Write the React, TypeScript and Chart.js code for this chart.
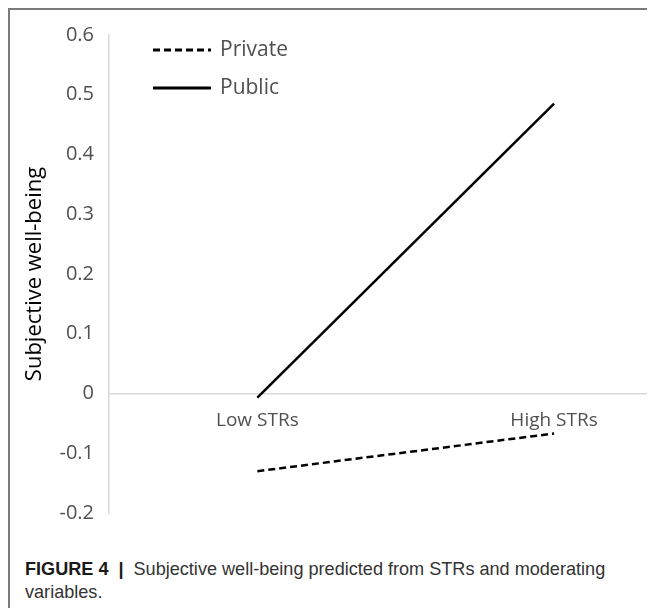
import React, { useEffect, useRef } from 'react';
import { Chart, registerables } from 'chart.js';

Chart.register(...registerables);

// ---- data ----
const categories = ['Low STRs', 'High STRs'];
const seriesNames = ['Private', 'Public'];
const privateValues = [-0.13, -0.067];
const publicValues = [-0.007, 0.485];
const yTickValues = [-0.2, -0.1, 0, 0.1, 0.2, 0.3, 0.4, 0.5, 0.6];
const yTitle = 'Subjective well-being';
const captionLabel = 'FIGURE 4';
const captionLine1 = 'Subjective well-being predicted from STRs and moderating';
const captionLine2 = 'variables.';

const FONT = '"Open Sans", "Noto Sans", sans-serif';
const TEXT = '#505050';
const AXIS = '#d9d9d9';

const insideLegend = {
  id: 'insideLegend',
  afterDraw(chart: any) {
    const { ctx, chartArea } = chart;
    const o = chart.options.plugins.insideLegend;
    chart.data.datasets.forEach((ds: any, i: number) => {
      const y = chartArea.top + o.top + i * o.rowGap;
      const x0 = chartArea.left + o.left;
      ctx.save();
      ctx.strokeStyle = ds.borderColor;
      ctx.lineWidth = o.lineWidth;
      ctx.lineCap = 'butt';
      ctx.setLineDash(ds.borderDash || []);
      ctx.beginPath();
      ctx.moveTo(x0, y);
      ctx.lineTo(x0 + o.sampleWidth, y);
      ctx.stroke();
      ctx.setLineDash([]);
      ctx.fillStyle = o.color;
      ctx.font = `${o.fontSize}px ${FONT}`;
      ctx.textBaseline = 'middle';
      ctx.textAlign = 'left';
      ctx.fillText(ds.label, x0 + o.sampleWidth + o.gap, y);
      ctx.restore();
    });
  },
};

export default function App() {
  const ref = useRef<HTMLCanvasElement | null>(null);

  useEffect(() => {
    if (!ref.current) return;
    const chart = new Chart(ref.current, {
      type: 'line',
      data: {
        datasets: [
          {
            label: seriesNames[0],
            data: privateValues.map((v, i) => ({ x: i + 1, y: v })),
            borderColor: '#000000',
            backgroundColor: '#000000',
            borderWidth: 2.5,
            borderDash: [7, 4],
            pointRadius: 0,
            fill: false,
          },
          {
            label: seriesNames[1],
            data: publicValues.map((v, i) => ({ x: i + 1, y: v })),
            borderColor: '#000000',
            backgroundColor: '#000000',
            borderWidth: 2.5,
            pointRadius: 0,
            fill: false,
          },
        ],
      },
      options: {
        animation: false,
        responsive: true,
        maintainAspectRatio: false,
        layout: { padding: { top: 25, bottom: 27, left: 0, right: 6 } },
        plugins: {
          legend: { display: false },
          tooltip: { enabled: false },
          insideLegend: {
            left: 44,
            top: 15,
            rowGap: 38,
            sampleWidth: 58,
            gap: 9,
            lineWidth: 2.8,
            fontSize: 21,
            color: TEXT,
          },
        } as any,
        scales: {
          x: {
            type: 'linear',
            position: { y: 0 } as any,
            min: 0.5,
            max: 2.32,
            grid: { display: false, drawTicks: false },
            border: { display: true, color: AXIS, width: 1.5 },
            afterBuildTicks: (s: any) => {
              s.ticks = categories.map((_, i) => ({ value: i + 1 }));
            },
            afterFit: (s: any) => {
              s.paddingLeft = 0;
              s.paddingRight = 0;
            },
            ticks: {
              padding: 16,
              color: TEXT,
              font: { family: FONT, size: 19 },
              maxRotation: 0,
              autoSkip: false,
              callback: (v: any) => categories[Math.round(Number(v)) - 1] ?? '',
            },
          },
          y: {
            type: 'linear',
            min: yTickValues[0],
            max: yTickValues[yTickValues.length - 1],
            grid: { display: false, drawTicks: false },
            border: { display: true, color: AXIS, width: 1.5 },
            afterBuildTicks: (s: any) => {
              s.ticks = yTickValues.map((v) => ({ value: v }));
            },
            afterFit: (s: any) => {
              s.width = 99;
              s.paddingTop = 0;
              s.paddingBottom = 0;
            },
            title: {
              display: true,
              text: yTitle,
              color: '#000000',
              font: { family: FONT, size: 22 },
              padding: { top: 12, bottom: 0 },
            },
            ticks: {
              padding: 15,
              color: TEXT,
              font: { family: FONT, size: 20 },
              callback: (v: any) => {
                const n = Math.round(Number(v) * 10) / 10;
                return n === 0 ? '0' : String(n);
              },
            },
          },
        },
      },
      plugins: [insideLegend as any],
    });
    return () => chart.destroy();
  }, []);

  return (
    <div
      style={{
        position: 'relative',
        width: 647,
        height: 600,
        boxSizing: 'border-box',
        borderTop: '2px solid #7a7a7a',
        borderLeft: '2px solid #7a7a7a',
        overflow: 'hidden',
        background: '#ffffff',
      }}
    >
      <div style={{ position: 'absolute', left: 0, top: 0, width: 645, height: 530 }}>
        <canvas ref={ref} />
      </div>
      <div
        style={{
          position: 'absolute',
          left: 15,
          top: 548,
          fontFamily: '"Liberation Sans", Arial, sans-serif',
          fontSize: 18.1,
          lineHeight: '23px',
          color: '#333333',
          whiteSpace: 'nowrap',
        }}
      >
        <span style={{ fontWeight: 'bold', color: '#1a1a1a' }}>{captionLabel}</span>
        <span style={{ fontWeight: 'bold', color: '#1a1a1a', margin: '0 10px' }}>|</span>
        <span>{captionLine1}</span>
        <br />
        <span>{captionLine2}</span>
      </div>
    </div>
  );
}
